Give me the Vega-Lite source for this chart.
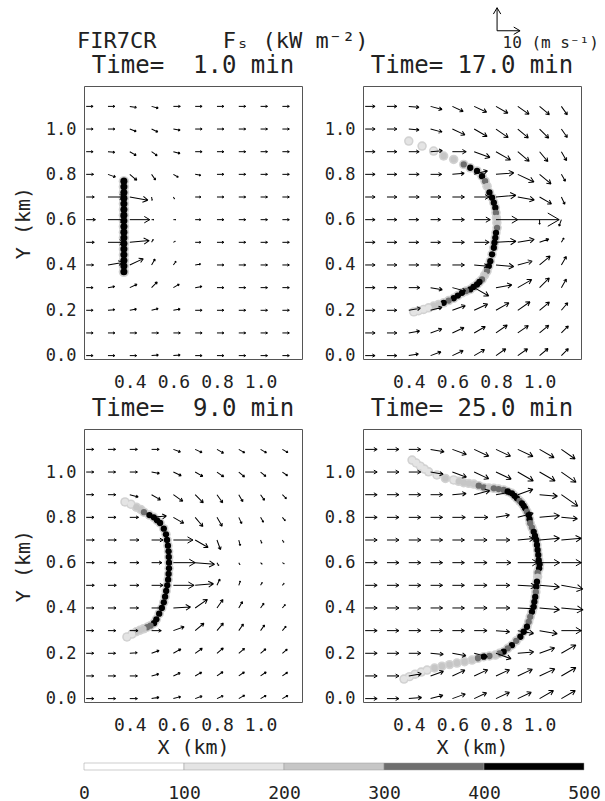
{
 "$schema": "https://vega.github.io/schema/vega-lite/v6.json",
 "padding": {"left": 12, "top": 5, "right": 0, "bottom": 0},
 "config": {
  "font": "DejaVu Sans Mono",
  "view": {"stroke": "#555", "strokeWidth": 1},
  "axis": {"grid": false, "domain": false, "ticks": false, "labelFont": "DejaVu Sans Mono", "labelFontSize": 17, "labelColor": "#222", "titleFont": "DejaVu Sans Mono", "titleFontSize": 20, "titleFontWeight": "normal", "titleColor": "#222"},
  "title": {"font": "DejaVu Sans Mono", "fontSize": 24, "fontWeight": "normal", "color": "#222", "baseline": "alphabetic", "offset": 8}
 },
 "datasets": {
  "vec": [
   {"t":1,"x":0.2,"y":1.1,"spd":3,"dir":0},{"t":1,"x":0.3,"y":1.1,"spd":3,"dir":0},{"t":1,"x":0.4,"y":1.1,"spd":3,"dir":10},{"t":1,"x":0.5,"y":1.1,"spd":3,"dir":15},{"t":1,"x":0.6,"y":1.1,"spd":3,"dir":0},{"t":1,"x":0.7,"y":1.1,"spd":3,"dir":0},{"t":1,"x":0.8,"y":1.1,"spd":3,"dir":0},{"t":1,"x":0.9,"y":1.1,"spd":3,"dir":0},{"t":1,"x":1.0,"y":1.1,"spd":3,"dir":0},{"t":1,"x":1.1,"y":1.1,"spd":3,"dir":0},
   {"t":1,"x":0.2,"y":1.0,"spd":3,"dir":0},{"t":1,"x":0.3,"y":1.0,"spd":3,"dir":0},{"t":1,"x":0.4,"y":1.0,"spd":3,"dir":20},{"t":1,"x":0.5,"y":1.0,"spd":3,"dir":25},{"t":1,"x":0.6,"y":1.0,"spd":3,"dir":10},{"t":1,"x":0.7,"y":1.0,"spd":3,"dir":0},{"t":1,"x":0.8,"y":1.0,"spd":3,"dir":0},{"t":1,"x":0.9,"y":1.0,"spd":3,"dir":0},{"t":1,"x":1.0,"y":1.0,"spd":3,"dir":0},{"t":1,"x":1.1,"y":1.0,"spd":3,"dir":0},
   {"t":1,"x":0.2,"y":0.9,"spd":3,"dir":0},{"t":1,"x":0.3,"y":0.9,"spd":3,"dir":5},{"t":1,"x":0.4,"y":0.9,"spd":3.2,"dir":30},{"t":1,"x":0.5,"y":0.9,"spd":3,"dir":35},{"t":1,"x":0.6,"y":0.9,"spd":3,"dir":15},{"t":1,"x":0.7,"y":0.9,"spd":3,"dir":0},{"t":1,"x":0.8,"y":0.9,"spd":3,"dir":0},{"t":1,"x":0.9,"y":0.9,"spd":3,"dir":0},{"t":1,"x":1.0,"y":0.9,"spd":3,"dir":0},{"t":1,"x":1.1,"y":0.9,"spd":3,"dir":0},
   {"t":1,"x":0.2,"y":0.8,"spd":3.2,"dir":0},{"t":1,"x":0.3,"y":0.8,"spd":3.5,"dir":20},{"t":1,"x":0.4,"y":0.8,"spd":4,"dir":40},{"t":1,"x":0.5,"y":0.8,"spd":3,"dir":55},{"t":1,"x":0.6,"y":0.8,"spd":2.5,"dir":30},{"t":1,"x":0.7,"y":0.8,"spd":2.5,"dir":10},{"t":1,"x":0.8,"y":0.8,"spd":3,"dir":0},{"t":1,"x":0.9,"y":0.8,"spd":3,"dir":0},{"t":1,"x":1.0,"y":0.8,"spd":3,"dir":0},{"t":1,"x":1.1,"y":0.8,"spd":3,"dir":0},
   {"t":1,"x":0.2,"y":0.7,"spd":3.5,"dir":0},{"t":1,"x":0.3,"y":0.7,"spd":7,"dir":0},{"t":1,"x":0.4,"y":0.7,"spd":8,"dir":10},{"t":1,"x":0.5,"y":0.7,"spd":1.5,"dir":80},{"t":1,"x":0.6,"y":0.7,"spd":1,"dir":60},{"t":1,"x":0.7,"y":0.7,"spd":2.5,"dir":0},{"t":1,"x":0.8,"y":0.7,"spd":3,"dir":0},{"t":1,"x":0.9,"y":0.7,"spd":3,"dir":0},{"t":1,"x":1.0,"y":0.7,"spd":3,"dir":0},{"t":1,"x":1.1,"y":0.7,"spd":3,"dir":0},
   {"t":1,"x":0.2,"y":0.6,"spd":4,"dir":0},{"t":1,"x":0.3,"y":0.6,"spd":7.5,"dir":0},{"t":1,"x":0.4,"y":0.6,"spd":8.7,"dir":0},{"t":1,"x":0.5,"y":0.6,"spd":1,"dir":0},{"t":1,"x":0.6,"y":0.6,"spd":1,"dir":0},{"t":1,"x":0.7,"y":0.6,"spd":2.5,"dir":0},{"t":1,"x":0.8,"y":0.6,"spd":3,"dir":0},{"t":1,"x":0.9,"y":0.6,"spd":3,"dir":0},{"t":1,"x":1.0,"y":0.6,"spd":3,"dir":0},{"t":1,"x":1.1,"y":0.6,"spd":3,"dir":0},
   {"t":1,"x":0.2,"y":0.5,"spd":3.5,"dir":0},{"t":1,"x":0.3,"y":0.5,"spd":7,"dir":0},{"t":1,"x":0.4,"y":0.5,"spd":8.5,"dir":-5},{"t":1,"x":0.5,"y":0.5,"spd":1.5,"dir":-60},{"t":1,"x":0.6,"y":0.5,"spd":1,"dir":-30},{"t":1,"x":0.7,"y":0.5,"spd":2.5,"dir":0},{"t":1,"x":0.8,"y":0.5,"spd":3,"dir":0},{"t":1,"x":0.9,"y":0.5,"spd":3,"dir":0},{"t":1,"x":1.0,"y":0.5,"spd":3,"dir":0},{"t":1,"x":1.1,"y":0.5,"spd":3,"dir":0},
   {"t":1,"x":0.2,"y":0.4,"spd":3.2,"dir":0},{"t":1,"x":0.3,"y":0.4,"spd":6.5,"dir":-10},{"t":1,"x":0.4,"y":0.4,"spd":6.5,"dir":-25},{"t":1,"x":0.5,"y":0.4,"spd":3,"dir":-60},{"t":1,"x":0.6,"y":0.4,"spd":2,"dir":-55},{"t":1,"x":0.7,"y":0.4,"spd":2.5,"dir":-10},{"t":1,"x":0.8,"y":0.4,"spd":3,"dir":0},{"t":1,"x":0.9,"y":0.4,"spd":3,"dir":0},{"t":1,"x":1.0,"y":0.4,"spd":3,"dir":0},{"t":1,"x":1.1,"y":0.4,"spd":3,"dir":0},
   {"t":1,"x":0.2,"y":0.3,"spd":3,"dir":0},{"t":1,"x":0.3,"y":0.3,"spd":3,"dir":-10},{"t":1,"x":0.4,"y":0.3,"spd":3.5,"dir":-25},{"t":1,"x":0.5,"y":0.3,"spd":3.5,"dir":-45},{"t":1,"x":0.6,"y":0.3,"spd":3,"dir":-30},{"t":1,"x":0.7,"y":0.3,"spd":3,"dir":-10},{"t":1,"x":0.8,"y":0.3,"spd":3,"dir":0},{"t":1,"x":0.9,"y":0.3,"spd":3,"dir":0},{"t":1,"x":1.0,"y":0.3,"spd":3,"dir":0},{"t":1,"x":1.1,"y":0.3,"spd":3,"dir":0},
   {"t":1,"x":0.2,"y":0.2,"spd":3,"dir":0},{"t":1,"x":0.3,"y":0.2,"spd":3,"dir":-5},{"t":1,"x":0.4,"y":0.2,"spd":3,"dir":-10},{"t":1,"x":0.5,"y":0.2,"spd":3,"dir":-15},{"t":1,"x":0.6,"y":0.2,"spd":3,"dir":-10},{"t":1,"x":0.7,"y":0.2,"spd":3,"dir":0},{"t":1,"x":0.8,"y":0.2,"spd":3,"dir":0},{"t":1,"x":0.9,"y":0.2,"spd":3,"dir":0},{"t":1,"x":1.0,"y":0.2,"spd":3,"dir":0},{"t":1,"x":1.1,"y":0.2,"spd":3,"dir":0},
   {"t":1,"x":0.2,"y":0.1,"spd":3,"dir":0},{"t":1,"x":0.3,"y":0.1,"spd":3,"dir":0},{"t":1,"x":0.4,"y":0.1,"spd":3,"dir":0},{"t":1,"x":0.5,"y":0.1,"spd":3,"dir":0},{"t":1,"x":0.6,"y":0.1,"spd":3,"dir":0},{"t":1,"x":0.7,"y":0.1,"spd":3,"dir":0},{"t":1,"x":0.8,"y":0.1,"spd":3,"dir":0},{"t":1,"x":0.9,"y":0.1,"spd":3,"dir":0},{"t":1,"x":1.0,"y":0.1,"spd":3,"dir":0},{"t":1,"x":1.1,"y":0.1,"spd":3,"dir":0},
   {"t":1,"x":0.2,"y":0.0,"spd":3,"dir":0},{"t":1,"x":0.3,"y":0.0,"spd":3,"dir":0},{"t":1,"x":0.4,"y":0.0,"spd":3,"dir":0},{"t":1,"x":0.5,"y":0.0,"spd":3,"dir":-5},{"t":1,"x":0.6,"y":0.0,"spd":3,"dir":-5},{"t":1,"x":0.7,"y":0.0,"spd":3,"dir":0},{"t":1,"x":0.8,"y":0.0,"spd":3,"dir":0},{"t":1,"x":0.9,"y":0.0,"spd":3,"dir":0},{"t":1,"x":1.0,"y":0.0,"spd":3,"dir":0},{"t":1,"x":1.1,"y":0.0,"spd":3,"dir":0},

   {"t":9,"x":0.2,"y":1.1,"spd":3.3,"dir":0},{"t":9,"x":0.3,"y":1.1,"spd":3.3,"dir":0},{"t":9,"x":0.4,"y":1.1,"spd":3.3,"dir":0},{"t":9,"x":0.5,"y":1.1,"spd":3.3,"dir":0},{"t":9,"x":0.6,"y":1.1,"spd":3.3,"dir":20},{"t":9,"x":0.7,"y":1.1,"spd":3.3,"dir":25},{"t":9,"x":0.8,"y":1.1,"spd":3.3,"dir":30},{"t":9,"x":0.9,"y":1.1,"spd":3,"dir":30},{"t":9,"x":1.0,"y":1.1,"spd":3,"dir":30},{"t":9,"x":1.1,"y":1.1,"spd":2.8,"dir":30},
   {"t":9,"x":0.2,"y":1.0,"spd":3.3,"dir":0},{"t":9,"x":0.3,"y":1.0,"spd":3.3,"dir":0},{"t":9,"x":0.4,"y":1.0,"spd":3.3,"dir":0},{"t":9,"x":0.5,"y":1.0,"spd":3.5,"dir":10},{"t":9,"x":0.6,"y":1.0,"spd":3.8,"dir":25},{"t":9,"x":0.7,"y":1.0,"spd":3.8,"dir":30},{"t":9,"x":0.8,"y":1.0,"spd":3.6,"dir":35},{"t":9,"x":0.9,"y":1.0,"spd":3.3,"dir":40},{"t":9,"x":1.0,"y":1.0,"spd":3,"dir":40},{"t":9,"x":1.1,"y":1.0,"spd":2.8,"dir":35},
   {"t":9,"x":0.2,"y":0.9,"spd":3.3,"dir":0},{"t":9,"x":0.3,"y":0.9,"spd":3.4,"dir":0},{"t":9,"x":0.4,"y":0.9,"spd":3.8,"dir":15},{"t":9,"x":0.5,"y":0.9,"spd":4.5,"dir":30},{"t":9,"x":0.6,"y":0.9,"spd":5,"dir":35},{"t":9,"x":0.7,"y":0.9,"spd":5,"dir":45},{"t":9,"x":0.8,"y":0.9,"spd":4.3,"dir":55},{"t":9,"x":0.9,"y":0.9,"spd":3.5,"dir":60},{"t":9,"x":1.0,"y":0.9,"spd":3,"dir":55},{"t":9,"x":1.1,"y":0.9,"spd":2.5,"dir":45},
   {"t":9,"x":0.2,"y":0.8,"spd":3.4,"dir":0},{"t":9,"x":0.3,"y":0.8,"spd":3.5,"dir":0},{"t":9,"x":0.4,"y":0.8,"spd":3.8,"dir":0},{"t":9,"x":0.5,"y":0.8,"spd":6.5,"dir":-5},{"t":9,"x":0.6,"y":0.8,"spd":5.2,"dir":30},{"t":9,"x":0.7,"y":0.8,"spd":5.2,"dir":50},{"t":9,"x":0.8,"y":0.8,"spd":4.5,"dir":60},{"t":9,"x":0.9,"y":0.8,"spd":3,"dir":65},{"t":9,"x":1.0,"y":0.8,"spd":2.5,"dir":60},{"t":9,"x":1.1,"y":0.8,"spd":2,"dir":50},
   {"t":9,"x":0.2,"y":0.7,"spd":3.5,"dir":0},{"t":9,"x":0.3,"y":0.7,"spd":3.6,"dir":0},{"t":9,"x":0.4,"y":0.7,"spd":4,"dir":0},{"t":9,"x":0.5,"y":0.7,"spd":5,"dir":0},{"t":9,"x":0.6,"y":0.7,"spd":8.5,"dir":0},{"t":9,"x":0.7,"y":0.7,"spd":6.5,"dir":30},{"t":9,"x":0.8,"y":0.7,"spd":4.5,"dir":70},{"t":9,"x":0.9,"y":0.7,"spd":2.5,"dir":75},{"t":9,"x":1.0,"y":0.7,"spd":1.5,"dir":70},{"t":9,"x":1.1,"y":0.7,"spd":1.2,"dir":60},
   {"t":9,"x":0.2,"y":0.6,"spd":3.5,"dir":0},{"t":9,"x":0.3,"y":0.6,"spd":3.6,"dir":0},{"t":9,"x":0.4,"y":0.6,"spd":4,"dir":0},{"t":9,"x":0.5,"y":0.6,"spd":4.5,"dir":0},{"t":9,"x":0.6,"y":0.6,"spd":9.5,"dir":0},{"t":9,"x":0.7,"y":0.6,"spd":8.5,"dir":5},{"t":9,"x":0.8,"y":0.6,"spd":1.5,"dir":60},{"t":9,"x":0.9,"y":0.6,"spd":1,"dir":60},{"t":9,"x":1.0,"y":0.6,"spd":1,"dir":45},{"t":9,"x":1.1,"y":0.6,"spd":1,"dir":30},
   {"t":9,"x":0.2,"y":0.5,"spd":3.5,"dir":0},{"t":9,"x":0.3,"y":0.5,"spd":3.6,"dir":0},{"t":9,"x":0.4,"y":0.5,"spd":4,"dir":0},{"t":9,"x":0.5,"y":0.5,"spd":5,"dir":0},{"t":9,"x":0.6,"y":0.5,"spd":9,"dir":0},{"t":9,"x":0.7,"y":0.5,"spd":8,"dir":-5},{"t":9,"x":0.8,"y":0.5,"spd":3,"dir":-65},{"t":9,"x":0.9,"y":0.5,"spd":2,"dir":-70},{"t":9,"x":1.0,"y":0.5,"spd":1.5,"dir":-60},{"t":9,"x":1.1,"y":0.5,"spd":1.2,"dir":-50},
   {"t":9,"x":0.2,"y":0.4,"spd":3.4,"dir":0},{"t":9,"x":0.3,"y":0.4,"spd":3.5,"dir":0},{"t":9,"x":0.4,"y":0.4,"spd":3.8,"dir":0},{"t":9,"x":0.5,"y":0.4,"spd":5,"dir":0},{"t":9,"x":0.6,"y":0.4,"spd":7.5,"dir":-3},{"t":9,"x":0.7,"y":0.4,"spd":6.5,"dir":-35},{"t":9,"x":0.8,"y":0.4,"spd":4.5,"dir":-55},{"t":9,"x":0.9,"y":0.4,"spd":3.2,"dir":-60},{"t":9,"x":1.0,"y":0.4,"spd":2.5,"dir":-55},{"t":9,"x":1.1,"y":0.4,"spd":2,"dir":-50},
   {"t":9,"x":0.2,"y":0.3,"spd":3.3,"dir":0},{"t":9,"x":0.3,"y":0.3,"spd":3.4,"dir":0},{"t":9,"x":0.4,"y":0.3,"spd":3.6,"dir":0},{"t":9,"x":0.5,"y":0.3,"spd":4.2,"dir":0},{"t":9,"x":0.6,"y":0.3,"spd":5,"dir":-20},{"t":9,"x":0.7,"y":0.3,"spd":5,"dir":-40},{"t":9,"x":0.8,"y":0.3,"spd":4.3,"dir":-50},{"t":9,"x":0.9,"y":0.3,"spd":3.5,"dir":-55},{"t":9,"x":1.0,"y":0.3,"spd":3,"dir":-55},{"t":9,"x":1.1,"y":0.3,"spd":2.5,"dir":-50},
   {"t":9,"x":0.2,"y":0.2,"spd":3.3,"dir":0},{"t":9,"x":0.3,"y":0.2,"spd":3.3,"dir":0},{"t":9,"x":0.4,"y":0.2,"spd":3.3,"dir":-5},{"t":9,"x":0.5,"y":0.2,"spd":3.5,"dir":-20},{"t":9,"x":0.6,"y":0.2,"spd":3.8,"dir":-30},{"t":9,"x":0.7,"y":0.2,"spd":3.8,"dir":-35},{"t":9,"x":0.8,"y":0.2,"spd":3.6,"dir":-40},{"t":9,"x":0.9,"y":0.2,"spd":3.3,"dir":-40},{"t":9,"x":1.0,"y":0.2,"spd":3,"dir":-40},{"t":9,"x":1.1,"y":0.2,"spd":2.8,"dir":-40},
   {"t":9,"x":0.2,"y":0.1,"spd":3.3,"dir":0},{"t":9,"x":0.3,"y":0.1,"spd":3.3,"dir":0},{"t":9,"x":0.4,"y":0.1,"spd":3.3,"dir":0},{"t":9,"x":0.5,"y":0.1,"spd":3.3,"dir":-15},{"t":9,"x":0.6,"y":0.1,"spd":3.3,"dir":-25},{"t":9,"x":0.7,"y":0.1,"spd":3.3,"dir":-30},{"t":9,"x":0.8,"y":0.1,"spd":3.2,"dir":-35},{"t":9,"x":0.9,"y":0.1,"spd":3,"dir":-35},{"t":9,"x":1.0,"y":0.1,"spd":3,"dir":-35},{"t":9,"x":1.1,"y":0.1,"spd":2.8,"dir":-35},
   {"t":9,"x":0.2,"y":0.0,"spd":3.3,"dir":0},{"t":9,"x":0.3,"y":0.0,"spd":3.3,"dir":0},{"t":9,"x":0.4,"y":0.0,"spd":3.3,"dir":0},{"t":9,"x":0.5,"y":0.0,"spd":3.3,"dir":-10},{"t":9,"x":0.6,"y":0.0,"spd":3.3,"dir":-15},{"t":9,"x":0.7,"y":0.0,"spd":3.2,"dir":-20},{"t":9,"x":0.8,"y":0.0,"spd":3,"dir":-25},{"t":9,"x":0.9,"y":0.0,"spd":3,"dir":-30},{"t":9,"x":1.0,"y":0.0,"spd":2.8,"dir":-30},{"t":9,"x":1.1,"y":0.0,"spd":2.8,"dir":-30},

   {"t":17,"x":0.2,"y":1.1,"spd":4.3,"dir":0},{"t":17,"x":0.3,"y":1.1,"spd":4.3,"dir":0},{"t":17,"x":0.4,"y":1.1,"spd":4.5,"dir":5},{"t":17,"x":0.5,"y":1.1,"spd":5.2,"dir":15},{"t":17,"x":0.6,"y":1.1,"spd":5.2,"dir":25},{"t":17,"x":0.7,"y":1.1,"spd":6,"dir":25},{"t":17,"x":0.8,"y":1.1,"spd":6,"dir":30},{"t":17,"x":0.9,"y":1.1,"spd":6,"dir":35},{"t":17,"x":1.0,"y":1.1,"spd":5.6,"dir":40},{"t":17,"x":1.1,"y":1.1,"spd":4.5,"dir":55},
   {"t":17,"x":0.2,"y":1.0,"spd":4.3,"dir":0},{"t":17,"x":0.3,"y":1.0,"spd":4.3,"dir":0},{"t":17,"x":0.4,"y":1.0,"spd":4.5,"dir":5},{"t":17,"x":0.5,"y":1.0,"spd":5.2,"dir":15},{"t":17,"x":0.6,"y":1.0,"spd":6,"dir":25},{"t":17,"x":0.7,"y":1.0,"spd":6.5,"dir":30},{"t":17,"x":0.8,"y":1.0,"spd":6.5,"dir":35},{"t":17,"x":0.9,"y":1.0,"spd":6,"dir":40},{"t":17,"x":1.0,"y":1.0,"spd":5.6,"dir":45},{"t":17,"x":1.1,"y":1.0,"spd":4.5,"dir":55},
   {"t":17,"x":0.2,"y":0.9,"spd":4.3,"dir":0},{"t":17,"x":0.3,"y":0.9,"spd":4.3,"dir":0},{"t":17,"x":0.4,"y":0.9,"spd":4.5,"dir":0},{"t":17,"x":0.5,"y":0.9,"spd":5.2,"dir":-5},{"t":17,"x":0.6,"y":0.9,"spd":6,"dir":0},{"t":17,"x":0.7,"y":0.9,"spd":7.3,"dir":20},{"t":17,"x":0.8,"y":0.9,"spd":7.3,"dir":30},{"t":17,"x":0.9,"y":0.9,"spd":6.5,"dir":40},{"t":17,"x":1.0,"y":0.9,"spd":5.6,"dir":50},{"t":17,"x":1.1,"y":0.9,"spd":4.5,"dir":60},
   {"t":17,"x":0.2,"y":0.8,"spd":4.3,"dir":0},{"t":17,"x":0.3,"y":0.8,"spd":4.3,"dir":0},{"t":17,"x":0.4,"y":0.8,"spd":4.5,"dir":0},{"t":17,"x":0.5,"y":0.8,"spd":4.8,"dir":0},{"t":17,"x":0.6,"y":0.8,"spd":5.2,"dir":-5},{"t":17,"x":0.7,"y":0.8,"spd":6,"dir":-15},{"t":17,"x":0.8,"y":0.8,"spd":7.8,"dir":-5},{"t":17,"x":0.9,"y":0.8,"spd":7.8,"dir":25},{"t":17,"x":1.0,"y":0.8,"spd":6.5,"dir":40},{"t":17,"x":1.1,"y":0.8,"spd":3.5,"dir":60},
   {"t":17,"x":0.2,"y":0.7,"spd":4.3,"dir":0},{"t":17,"x":0.3,"y":0.7,"spd":4.3,"dir":0},{"t":17,"x":0.4,"y":0.7,"spd":4.5,"dir":0},{"t":17,"x":0.5,"y":0.7,"spd":4.5,"dir":0},{"t":17,"x":0.6,"y":0.7,"spd":5.2,"dir":0},{"t":17,"x":0.7,"y":0.7,"spd":6.5,"dir":0},{"t":17,"x":0.8,"y":0.7,"spd":8.7,"dir":-5},{"t":17,"x":0.9,"y":0.7,"spd":7.3,"dir":10},{"t":17,"x":1.0,"y":0.7,"spd":6,"dir":30},{"t":17,"x":1.1,"y":0.7,"spd":3.5,"dir":65},
   {"t":17,"x":0.2,"y":0.6,"spd":4.3,"dir":0},{"t":17,"x":0.3,"y":0.6,"spd":4.3,"dir":0},{"t":17,"x":0.4,"y":0.6,"spd":4.3,"dir":0},{"t":17,"x":0.5,"y":0.6,"spd":4.3,"dir":0},{"t":17,"x":0.6,"y":0.6,"spd":5.2,"dir":0},{"t":17,"x":0.7,"y":0.6,"spd":7,"dir":0},{"t":17,"x":0.8,"y":0.6,"spd":9.5,"dir":0},{"t":17,"x":0.9,"y":0.6,"spd":18,"dir":0},{"t":17,"x":1.0,"y":0.6,"spd":2,"dir":90},{"t":17,"x":1.1,"y":0.6,"spd":3,"dir":110},
   {"t":17,"x":0.2,"y":0.5,"spd":4.3,"dir":0},{"t":17,"x":0.3,"y":0.5,"spd":4.3,"dir":0},{"t":17,"x":0.4,"y":0.5,"spd":4.3,"dir":0},{"t":17,"x":0.5,"y":0.5,"spd":4.3,"dir":0},{"t":17,"x":0.6,"y":0.5,"spd":5.2,"dir":0},{"t":17,"x":0.7,"y":0.5,"spd":6.5,"dir":0},{"t":17,"x":0.8,"y":0.5,"spd":8.7,"dir":-3},{"t":17,"x":0.9,"y":0.5,"spd":7.3,"dir":-10},{"t":17,"x":1.0,"y":0.5,"spd":4.3,"dir":-20},{"t":17,"x":1.1,"y":0.5,"spd":2.2,"dir":-60},
   {"t":17,"x":0.2,"y":0.4,"spd":4.3,"dir":0},{"t":17,"x":0.3,"y":0.4,"spd":4.3,"dir":0},{"t":17,"x":0.4,"y":0.4,"spd":4.3,"dir":0},{"t":17,"x":0.5,"y":0.4,"spd":4.3,"dir":0},{"t":17,"x":0.6,"y":0.4,"spd":5.2,"dir":0},{"t":17,"x":0.7,"y":0.4,"spd":6,"dir":5},{"t":17,"x":0.8,"y":0.4,"spd":7.8,"dir":5},{"t":17,"x":0.9,"y":0.4,"spd":6.5,"dir":-15},{"t":17,"x":1.0,"y":0.4,"spd":6,"dir":-40},{"t":17,"x":1.1,"y":0.4,"spd":4.3,"dir":-60},
   {"t":17,"x":0.2,"y":0.3,"spd":4.3,"dir":0},{"t":17,"x":0.3,"y":0.3,"spd":4.3,"dir":0},{"t":17,"x":0.4,"y":0.3,"spd":4.8,"dir":0},{"t":17,"x":0.5,"y":0.3,"spd":5.2,"dir":10},{"t":17,"x":0.6,"y":0.3,"spd":6,"dir":15},{"t":17,"x":0.7,"y":0.3,"spd":7.3,"dir":30},{"t":17,"x":0.8,"y":0.3,"spd":7,"dir":-10},{"t":17,"x":0.9,"y":0.3,"spd":7,"dir":-30},{"t":17,"x":1.0,"y":0.3,"spd":6,"dir":-45},{"t":17,"x":1.1,"y":0.3,"spd":4.3,"dir":-60},
   {"t":17,"x":0.2,"y":0.2,"spd":4.3,"dir":0},{"t":17,"x":0.3,"y":0.2,"spd":4.3,"dir":0},{"t":17,"x":0.4,"y":0.2,"spd":5.2,"dir":-10},{"t":17,"x":0.5,"y":0.2,"spd":5.2,"dir":-15},{"t":17,"x":0.6,"y":0.2,"spd":6,"dir":-20},{"t":17,"x":0.7,"y":0.2,"spd":6.5,"dir":-25},{"t":17,"x":0.8,"y":0.2,"spd":6.5,"dir":-30},{"t":17,"x":0.9,"y":0.2,"spd":6.5,"dir":-35},{"t":17,"x":1.0,"y":0.2,"spd":5.6,"dir":-40},{"t":17,"x":1.1,"y":0.2,"spd":4.3,"dir":-50},
   {"t":17,"x":0.2,"y":0.1,"spd":4.3,"dir":0},{"t":17,"x":0.3,"y":0.1,"spd":4.3,"dir":0},{"t":17,"x":0.4,"y":0.1,"spd":4.8,"dir":-10},{"t":17,"x":0.5,"y":0.1,"spd":5.2,"dir":-20},{"t":17,"x":0.6,"y":0.1,"spd":5.6,"dir":-25},{"t":17,"x":0.7,"y":0.1,"spd":5.6,"dir":-30},{"t":17,"x":0.8,"y":0.1,"spd":6,"dir":-35},{"t":17,"x":0.9,"y":0.1,"spd":5.6,"dir":-35},{"t":17,"x":1.0,"y":0.1,"spd":5.2,"dir":-40},{"t":17,"x":1.1,"y":0.1,"spd":4.3,"dir":-45},
   {"t":17,"x":0.2,"y":0.0,"spd":4.3,"dir":0},{"t":17,"x":0.3,"y":0.0,"spd":4.3,"dir":0},{"t":17,"x":0.4,"y":0.0,"spd":4.3,"dir":-10},{"t":17,"x":0.5,"y":0.0,"spd":4.8,"dir":-20},{"t":17,"x":0.6,"y":0.0,"spd":5.2,"dir":-25},{"t":17,"x":0.7,"y":0.0,"spd":5.2,"dir":-30},{"t":17,"x":0.8,"y":0.0,"spd":5.2,"dir":-35},{"t":17,"x":0.9,"y":0.0,"spd":5.2,"dir":-35},{"t":17,"x":1.0,"y":0.0,"spd":4.8,"dir":-40},{"t":17,"x":1.1,"y":0.0,"spd":4.3,"dir":-45},

   {"t":25,"x":0.2,"y":1.1,"spd":5.2,"dir":0},{"t":25,"x":0.3,"y":1.1,"spd":5.2,"dir":0},{"t":25,"x":0.4,"y":1.1,"spd":5.2,"dir":0},{"t":25,"x":0.5,"y":1.1,"spd":6,"dir":10},{"t":25,"x":0.6,"y":1.1,"spd":6.5,"dir":20},{"t":25,"x":0.7,"y":1.1,"spd":7,"dir":25},{"t":25,"x":0.8,"y":1.1,"spd":7,"dir":25},{"t":25,"x":0.9,"y":1.1,"spd":7.3,"dir":25},{"t":25,"x":1.0,"y":1.1,"spd":7.3,"dir":30},{"t":25,"x":1.1,"y":1.1,"spd":7.3,"dir":35},
   {"t":25,"x":0.2,"y":1.0,"spd":5.2,"dir":0},{"t":25,"x":0.3,"y":1.0,"spd":5.2,"dir":0},{"t":25,"x":0.4,"y":1.0,"spd":5.2,"dir":0},{"t":25,"x":0.5,"y":1.0,"spd":5.6,"dir":10},{"t":25,"x":0.6,"y":1.0,"spd":6.5,"dir":20},{"t":25,"x":0.7,"y":1.0,"spd":7,"dir":25},{"t":25,"x":0.8,"y":1.0,"spd":7.3,"dir":25},{"t":25,"x":0.9,"y":1.0,"spd":7.8,"dir":30},{"t":25,"x":1.0,"y":1.0,"spd":7.8,"dir":30},{"t":25,"x":1.1,"y":1.0,"spd":7.8,"dir":35},
   {"t":25,"x":0.2,"y":0.9,"spd":5.2,"dir":0},{"t":25,"x":0.3,"y":0.9,"spd":5.2,"dir":0},{"t":25,"x":0.4,"y":0.9,"spd":5.2,"dir":0},{"t":25,"x":0.5,"y":0.9,"spd":5.2,"dir":0},{"t":25,"x":0.6,"y":0.9,"spd":6,"dir":-5},{"t":25,"x":0.7,"y":0.9,"spd":7,"dir":-15},{"t":25,"x":0.8,"y":0.9,"spd":7,"dir":-10},{"t":25,"x":0.9,"y":0.9,"spd":7,"dir":-20},{"t":25,"x":1.0,"y":0.9,"spd":7.8,"dir":5},{"t":25,"x":1.1,"y":0.9,"spd":8.7,"dir":35},
   {"t":25,"x":0.2,"y":0.8,"spd":5.2,"dir":0},{"t":25,"x":0.3,"y":0.8,"spd":5.2,"dir":0},{"t":25,"x":0.4,"y":0.8,"spd":5.2,"dir":0},{"t":25,"x":0.5,"y":0.8,"spd":5.2,"dir":0},{"t":25,"x":0.6,"y":0.8,"spd":5.6,"dir":0},{"t":25,"x":0.7,"y":0.8,"spd":6,"dir":0},{"t":25,"x":0.8,"y":0.8,"spd":6,"dir":-10},{"t":25,"x":0.9,"y":0.8,"spd":7,"dir":-15},{"t":25,"x":1.0,"y":0.8,"spd":8.7,"dir":-5},{"t":25,"x":1.1,"y":0.8,"spd":7,"dir":5},
   {"t":25,"x":0.2,"y":0.7,"spd":5.2,"dir":0},{"t":25,"x":0.3,"y":0.7,"spd":5.2,"dir":0},{"t":25,"x":0.4,"y":0.7,"spd":5.2,"dir":0},{"t":25,"x":0.5,"y":0.7,"spd":5.2,"dir":0},{"t":25,"x":0.6,"y":0.7,"spd":5.2,"dir":0},{"t":25,"x":0.7,"y":0.7,"spd":5.6,"dir":0},{"t":25,"x":0.8,"y":0.7,"spd":6,"dir":0},{"t":25,"x":0.9,"y":0.7,"spd":7,"dir":-5},{"t":25,"x":1.0,"y":0.7,"spd":8.7,"dir":-5},{"t":25,"x":1.1,"y":0.7,"spd":8.7,"dir":-5},
   {"t":25,"x":0.2,"y":0.6,"spd":5.2,"dir":0},{"t":25,"x":0.3,"y":0.6,"spd":5.2,"dir":0},{"t":25,"x":0.4,"y":0.6,"spd":5.2,"dir":0},{"t":25,"x":0.5,"y":0.6,"spd":5.2,"dir":0},{"t":25,"x":0.6,"y":0.6,"spd":5.2,"dir":0},{"t":25,"x":0.7,"y":0.6,"spd":5.6,"dir":0},{"t":25,"x":0.8,"y":0.6,"spd":6.5,"dir":0},{"t":25,"x":0.9,"y":0.6,"spd":8.7,"dir":0},{"t":25,"x":1.0,"y":0.6,"spd":8.7,"dir":0},{"t":25,"x":1.1,"y":0.6,"spd":8.7,"dir":0},
   {"t":25,"x":0.2,"y":0.5,"spd":5.2,"dir":0},{"t":25,"x":0.3,"y":0.5,"spd":5.2,"dir":0},{"t":25,"x":0.4,"y":0.5,"spd":5.2,"dir":0},{"t":25,"x":0.5,"y":0.5,"spd":5.2,"dir":0},{"t":25,"x":0.6,"y":0.5,"spd":5.2,"dir":0},{"t":25,"x":0.7,"y":0.5,"spd":5.6,"dir":0},{"t":25,"x":0.8,"y":0.5,"spd":6,"dir":0},{"t":25,"x":0.9,"y":0.5,"spd":7.8,"dir":3},{"t":25,"x":1.0,"y":0.5,"spd":8.7,"dir":5},{"t":25,"x":1.1,"y":0.5,"spd":9.5,"dir":10},
   {"t":25,"x":0.2,"y":0.4,"spd":5.2,"dir":0},{"t":25,"x":0.3,"y":0.4,"spd":5.2,"dir":0},{"t":25,"x":0.4,"y":0.4,"spd":5.2,"dir":0},{"t":25,"x":0.5,"y":0.4,"spd":5.2,"dir":0},{"t":25,"x":0.6,"y":0.4,"spd":5.2,"dir":0},{"t":25,"x":0.7,"y":0.4,"spd":5.6,"dir":0},{"t":25,"x":0.8,"y":0.4,"spd":6,"dir":0},{"t":25,"x":0.9,"y":0.4,"spd":7.3,"dir":3},{"t":25,"x":1.0,"y":0.4,"spd":8.7,"dir":5},{"t":25,"x":1.1,"y":0.4,"spd":9.5,"dir":5},
   {"t":25,"x":0.2,"y":0.3,"spd":5.2,"dir":0},{"t":25,"x":0.3,"y":0.3,"spd":5.2,"dir":0},{"t":25,"x":0.4,"y":0.3,"spd":5.2,"dir":0},{"t":25,"x":0.5,"y":0.3,"spd":5.2,"dir":0},{"t":25,"x":0.6,"y":0.3,"spd":5.2,"dir":0},{"t":25,"x":0.7,"y":0.3,"spd":5.6,"dir":0},{"t":25,"x":0.8,"y":0.3,"spd":6,"dir":5},{"t":25,"x":0.9,"y":0.3,"spd":7,"dir":10},{"t":25,"x":1.0,"y":0.3,"spd":7.8,"dir":10},{"t":25,"x":1.1,"y":0.3,"spd":8.7,"dir":0},
   {"t":25,"x":0.2,"y":0.2,"spd":5.2,"dir":0},{"t":25,"x":0.3,"y":0.2,"spd":5.2,"dir":0},{"t":25,"x":0.4,"y":0.2,"spd":5.2,"dir":0},{"t":25,"x":0.5,"y":0.2,"spd":5.6,"dir":5},{"t":25,"x":0.6,"y":0.2,"spd":6,"dir":10},{"t":25,"x":0.7,"y":0.2,"spd":6,"dir":15},{"t":25,"x":0.8,"y":0.2,"spd":7,"dir":20},{"t":25,"x":0.9,"y":0.2,"spd":7,"dir":-5},{"t":25,"x":1.0,"y":0.2,"spd":7,"dir":-20},{"t":25,"x":1.1,"y":0.2,"spd":7.3,"dir":-30},
   {"t":25,"x":0.2,"y":0.1,"spd":5.2,"dir":0},{"t":25,"x":0.3,"y":0.1,"spd":5.2,"dir":0},{"t":25,"x":0.4,"y":0.1,"spd":5.6,"dir":-10},{"t":25,"x":0.5,"y":0.1,"spd":6,"dir":-20},{"t":25,"x":0.6,"y":0.1,"spd":6,"dir":-25},{"t":25,"x":0.7,"y":0.1,"spd":6.5,"dir":-25},{"t":25,"x":0.8,"y":0.1,"spd":6.5,"dir":-25},{"t":25,"x":0.9,"y":0.1,"spd":7,"dir":-25},{"t":25,"x":1.0,"y":0.1,"spd":7.3,"dir":-25},{"t":25,"x":1.1,"y":0.1,"spd":7.3,"dir":-30},
   {"t":25,"x":0.2,"y":0.0,"spd":5.2,"dir":0},{"t":25,"x":0.3,"y":0.0,"spd":5.2,"dir":0},{"t":25,"x":0.4,"y":0.0,"spd":5.6,"dir":-5},{"t":25,"x":0.5,"y":0.0,"spd":5.6,"dir":-15},{"t":25,"x":0.6,"y":0.0,"spd":6,"dir":-20},{"t":25,"x":0.7,"y":0.0,"spd":6,"dir":-25},{"t":25,"x":0.8,"y":0.0,"spd":6.5,"dir":-25},{"t":25,"x":0.9,"y":0.0,"spd":6.5,"dir":-25},{"t":25,"x":1.0,"y":0.0,"spd":7,"dir":-30},{"t":25,"x":1.1,"y":0.0,"spd":7,"dir":-30}
  ],
  "fire": [
   {"t":1,"x":0.373,"y":0.37,"fs":430},{"t":1,"x":0.373,"y":0.395,"fs":460},{"t":1,"x":0.373,"y":0.42,"fs":470},{"t":1,"x":0.373,"y":0.445,"fs":480},{"t":1,"x":0.373,"y":0.47,"fs":480},{"t":1,"x":0.373,"y":0.495,"fs":480},{"t":1,"x":0.373,"y":0.52,"fs":480},{"t":1,"x":0.373,"y":0.545,"fs":480},{"t":1,"x":0.373,"y":0.57,"fs":480},{"t":1,"x":0.373,"y":0.595,"fs":480},{"t":1,"x":0.373,"y":0.62,"fs":480},{"t":1,"x":0.373,"y":0.645,"fs":480},{"t":1,"x":0.373,"y":0.67,"fs":480},{"t":1,"x":0.373,"y":0.695,"fs":480},{"t":1,"x":0.373,"y":0.72,"fs":470},{"t":1,"x":0.373,"y":0.745,"fs":460},{"t":1,"x":0.373,"y":0.77,"fs":430},

   {"t":9,"x":0.378,"y":0.868,"fs":150},{"t":9,"x":0.405,"y":0.858,"fs":180},{"t":9,"x":0.43,"y":0.845,"fs":220},{"t":9,"x":0.45,"y":0.835,"fs":280},{"t":9,"x":0.465,"y":0.823,"fs":350},{"t":9,"x":0.49,"y":0.81,"fs":420},{"t":9,"x":0.51,"y":0.8,"fs":450},{"t":9,"x":0.525,"y":0.787,"fs":450},{"t":9,"x":0.539,"y":0.775,"fs":460},{"t":9,"x":0.556,"y":0.75,"fs":460},{"t":9,"x":0.566,"y":0.725,"fs":470},{"t":9,"x":0.571,"y":0.7,"fs":470},{"t":9,"x":0.575,"y":0.675,"fs":470},{"t":9,"x":0.578,"y":0.65,"fs":480},{"t":9,"x":0.579,"y":0.625,"fs":480},{"t":9,"x":0.58,"y":0.6,"fs":480},{"t":9,"x":0.58,"y":0.575,"fs":480},{"t":9,"x":0.578,"y":0.55,"fs":480},{"t":9,"x":0.576,"y":0.525,"fs":470},{"t":9,"x":0.572,"y":0.5,"fs":470},{"t":9,"x":0.567,"y":0.475,"fs":470},{"t":9,"x":0.562,"y":0.45,"fs":460},{"t":9,"x":0.556,"y":0.425,"fs":460},{"t":9,"x":0.547,"y":0.4,"fs":450},{"t":9,"x":0.535,"y":0.375,"fs":450},{"t":9,"x":0.522,"y":0.35,"fs":440},{"t":9,"x":0.511,"y":0.333,"fs":420},{"t":9,"x":0.495,"y":0.322,"fs":350},{"t":9,"x":0.48,"y":0.315,"fs":300},{"t":9,"x":0.463,"y":0.308,"fs":260},{"t":9,"x":0.447,"y":0.302,"fs":230},{"t":9,"x":0.43,"y":0.295,"fs":200},{"t":9,"x":0.41,"y":0.285,"fs":170},{"t":9,"x":0.387,"y":0.272,"fs":150},

   {"t":17,"x":0.4,"y":0.947,"fs":120},{"t":17,"x":0.461,"y":0.925,"fs":150},{"t":17,"x":0.514,"y":0.903,"fs":180},{"t":17,"x":0.56,"y":0.881,"fs":200},{"t":17,"x":0.606,"y":0.866,"fs":250},{"t":17,"x":0.652,"y":0.844,"fs":350},{"t":17,"x":0.682,"y":0.829,"fs":450},{"t":17,"x":0.713,"y":0.815,"fs":450},{"t":17,"x":0.736,"y":0.792,"fs":450},{"t":17,"x":0.75,"y":0.77,"fs":300},{"t":17,"x":0.759,"y":0.748,"fs":280},{"t":17,"x":0.77,"y":0.72,"fs":420},{"t":17,"x":0.782,"y":0.697,"fs":450},{"t":17,"x":0.79,"y":0.675,"fs":450},{"t":17,"x":0.797,"y":0.653,"fs":450},{"t":17,"x":0.8,"y":0.63,"fs":300},{"t":17,"x":0.802,"y":0.608,"fs":250},{"t":17,"x":0.804,"y":0.586,"fs":250},{"t":17,"x":0.805,"y":0.564,"fs":300},{"t":17,"x":0.8,"y":0.542,"fs":450},{"t":17,"x":0.797,"y":0.52,"fs":450},{"t":17,"x":0.793,"y":0.498,"fs":450},{"t":17,"x":0.79,"y":0.476,"fs":450},{"t":17,"x":0.782,"y":0.447,"fs":450},{"t":17,"x":0.774,"y":0.417,"fs":450},{"t":17,"x":0.767,"y":0.395,"fs":420},{"t":17,"x":0.759,"y":0.373,"fs":300},{"t":17,"x":0.748,"y":0.355,"fs":280},{"t":17,"x":0.736,"y":0.336,"fs":300},{"t":17,"x":0.724,"y":0.325,"fs":420},{"t":17,"x":0.713,"y":0.314,"fs":450},{"t":17,"x":0.697,"y":0.303,"fs":420},{"t":17,"x":0.682,"y":0.292,"fs":450},{"t":17,"x":0.663,"y":0.285,"fs":300},{"t":17,"x":0.644,"y":0.277,"fs":420},{"t":17,"x":0.625,"y":0.265,"fs":430},{"t":17,"x":0.606,"y":0.253,"fs":450},{"t":17,"x":0.583,"y":0.243,"fs":300},{"t":17,"x":0.56,"y":0.233,"fs":420},{"t":17,"x":0.537,"y":0.226,"fs":250},{"t":17,"x":0.514,"y":0.219,"fs":200},{"t":17,"x":0.491,"y":0.211,"fs":180},{"t":17,"x":0.468,"y":0.204,"fs":150},{"t":17,"x":0.445,"y":0.198,"fs":130},{"t":17,"x":0.423,"y":0.193,"fs":120},

   {"t":25,"x":0.415,"y":1.053,"fs":120},{"t":25,"x":0.434,"y":1.04,"fs":120},{"t":25,"x":0.453,"y":1.026,"fs":130},{"t":25,"x":0.472,"y":1.013,"fs":130},{"t":25,"x":0.491,"y":1.001,"fs":150},{"t":25,"x":0.529,"y":0.987,"fs":180},{"t":25,"x":0.568,"y":0.972,"fs":250},{"t":25,"x":0.606,"y":0.965,"fs":150},{"t":25,"x":0.629,"y":0.959,"fs":250},{"t":25,"x":0.652,"y":0.953,"fs":280},{"t":25,"x":0.675,"y":0.95,"fs":200},{"t":25,"x":0.698,"y":0.947,"fs":250},{"t":25,"x":0.721,"y":0.94,"fs":300},{"t":25,"x":0.744,"y":0.932,"fs":300},{"t":25,"x":0.767,"y":0.93,"fs":280},{"t":25,"x":0.79,"y":0.928,"fs":300},{"t":25,"x":0.812,"y":0.925,"fs":300},{"t":25,"x":0.835,"y":0.921,"fs":350},{"t":25,"x":0.854,"y":0.914,"fs":420},{"t":25,"x":0.873,"y":0.906,"fs":450},{"t":25,"x":0.885,"y":0.895,"fs":450},{"t":25,"x":0.896,"y":0.884,"fs":430},{"t":25,"x":0.908,"y":0.873,"fs":300},{"t":25,"x":0.919,"y":0.862,"fs":450},{"t":25,"x":0.927,"y":0.851,"fs":450},{"t":25,"x":0.934,"y":0.84,"fs":420},{"t":25,"x":0.942,"y":0.825,"fs":300},{"t":25,"x":0.95,"y":0.81,"fs":450},{"t":25,"x":0.954,"y":0.792,"fs":420},{"t":25,"x":0.957,"y":0.774,"fs":300},{"t":25,"x":0.965,"y":0.755,"fs":350},{"t":25,"x":0.973,"y":0.736,"fs":450},{"t":25,"x":0.979,"y":0.718,"fs":450},{"t":25,"x":0.985,"y":0.7,"fs":450},{"t":25,"x":0.988,"y":0.678,"fs":420},{"t":25,"x":0.991,"y":0.656,"fs":450},{"t":25,"x":0.994,"y":0.634,"fs":450},{"t":25,"x":0.996,"y":0.611,"fs":480},{"t":25,"x":1.0,"y":0.593,"fs":480},{"t":25,"x":0.998,"y":0.575,"fs":450},{"t":25,"x":0.991,"y":0.556,"fs":300},{"t":25,"x":0.991,"y":0.538,"fs":280},{"t":25,"x":0.988,"y":0.516,"fs":420},{"t":25,"x":0.985,"y":0.494,"fs":450},{"t":25,"x":0.983,"y":0.471,"fs":300},{"t":25,"x":0.98,"y":0.449,"fs":450},{"t":25,"x":0.976,"y":0.427,"fs":450},{"t":25,"x":0.973,"y":0.405,"fs":450},{"t":25,"x":0.965,"y":0.383,"fs":420},{"t":25,"x":0.957,"y":0.361,"fs":300},{"t":25,"x":0.95,"y":0.339,"fs":300},{"t":25,"x":0.942,"y":0.317,"fs":420},{"t":25,"x":0.927,"y":0.295,"fs":450},{"t":25,"x":0.912,"y":0.273,"fs":450},{"t":25,"x":0.893,"y":0.255,"fs":300},{"t":25,"x":0.873,"y":0.236,"fs":420},{"t":25,"x":0.854,"y":0.222,"fs":300},{"t":25,"x":0.835,"y":0.207,"fs":450},{"t":25,"x":0.816,"y":0.2,"fs":300},{"t":25,"x":0.797,"y":0.192,"fs":280},{"t":25,"x":0.77,"y":0.188,"fs":300},{"t":25,"x":0.744,"y":0.185,"fs":450},{"t":25,"x":0.717,"y":0.178,"fs":300},{"t":25,"x":0.69,"y":0.17,"fs":250},{"t":25,"x":0.656,"y":0.163,"fs":280},{"t":25,"x":0.621,"y":0.157,"fs":250},{"t":25,"x":0.587,"y":0.15,"fs":200},{"t":25,"x":0.552,"y":0.143,"fs":250},{"t":25,"x":0.518,"y":0.135,"fs":200},{"t":25,"x":0.484,"y":0.126,"fs":150},{"t":25,"x":0.457,"y":0.117,"fs":150},{"t":25,"x":0.429,"y":0.108,"fs":130},{"t":25,"x":0.403,"y":0.097,"fs":120},{"t":25,"x":0.378,"y":0.086,"fs":110}
  ],
  "bar": [
   {"lo":0,"hi":100,"fs":50},{"lo":100,"hi":200,"fs":150},{"lo":200,"hi":300,"fs":250},{"lo":300,"hi":400,"fs":350},{"lo":400,"hi":500,"fs":450}
  ],
  "refvec": [
   {"spd":10,"dir":0},{"spd":10,"dir":-90}
  ],
  "reflabel": [
   {"label":"10 (m s\u207b\u00b9)"}
  ],
  "heading": [
   {"label":"FIR7CR\u00a0\u00a0\u00a0\u00a0\u00a0F\u209b\u00a0(kW\u00a0m\u207b\u00b2)"}
  ]
 },
 "spacing": 4,
 "vconcat": [
  {
   "bounds": "flush",
   "columns": 2,
   "spacing": {"row": 70, "column": 61},
   "concat": [
    {
     "width": 218, "height": 1,
     "view": {"stroke": null},
     "data": {"name": "heading"},
     "mark": {"type": "text", "align": "left", "baseline": "alphabetic", "fontSize": 22, "color": "#222"},
     "encoding": {
      "x": {"datum": 0.158, "type": "quantitative", "scale": {"domain": [0.19, 1.19], "nice": false, "zero": false}, "axis": null},
      "y": {"datum": 1.371, "type": "quantitative", "scale": {"domain": [1.499, 1.503], "nice": false, "zero": false}, "axis": null},
      "text": {"field": "label", "type": "nominal"}
     }
    },
    {
     "width": 218, "height": 1,
     "view": {"stroke": null},
     "layer": [
      {"data": {"name": "refvec"}, "mark": {"type": "point", "shape": "M0,0L2,0M2,0L1.45,-0.32M2,0L1.45,0.32", "filled": false, "color": "#000000", "strokeWidth": 1, "opacity": 1}, "encoding": {"x": {"datum": 0.805, "type": "quantitative", "scale": {"domain": [0.19, 1.19], "nice": false, "zero": false}, "axis": null}, "y": {"datum": 1.44, "type": "quantitative", "scale": {"domain": [1.499, 1.503], "nice": false, "zero": false}, "axis": null}, "angle": {"field": "dir", "type": "quantitative", "scale": null}, "size": {"field": "spd", "type": "quantitative", "scale": {"type": "pow", "exponent": 2, "domain": [0, 10], "range": [0, 529]}, "legend": null}}},
      {"data": {"name": "reflabel"}, "mark": {"type": "text", "align": "left", "baseline": "alphabetic", "fontSize": 16, "color": "#222"}, "encoding": {"x": {"datum": 0.83, "type": "quantitative"}, "y": {"datum": 1.372, "type": "quantitative"}, "text": {"field": "label", "type": "nominal"}}}
     ]
    },
    {
     "width": 218, "height": 273,
     "title": {"text": "Time=\u00a0\u00a01.0\u00a0min"},
     "encoding": {
      "x": {"field": "x", "type": "quantitative", "scale": {"domain": [0.19, 1.19], "nice": false, "zero": false}, "axis": {"values": [0.4, 0.6, 0.8, 1.0], "format": ".1f", "labelFontSize": 18, "labelPadding": 14, "title": null}},
      "y": {"field": "y", "type": "quantitative", "scale": {"domain": [-0.015, 1.19], "nice": false, "zero": false}, "axis": {"values": [0, 0.2, 0.4, 0.6, 0.8, 1.0], "format": ".1f", "labelPadding": 8, "title": "Y (km)", "titlePadding": 12}}
     },
     "layer": [
      {"data": {"name": "fire"}, "transform": [{"filter": "datum.t == 1"}], "mark": {"type": "point", "shape": "circle", "filled": true, "color": "#d2d2d2", "size": 110, "opacity": 1}},
      {"data": {"name": "fire"}, "transform": [{"filter": "datum.t == 1"}], "mark": {"type": "point", "shape": "circle", "filled": true, "size": 50, "opacity": 1}, "encoding": {"color": {"field": "fs", "type": "quantitative", "scale": {"type": "threshold", "domain": [100, 200, 300, 400], "range": ["#ffffff", "#e4e4e4", "#c6c6c6", "#6e6e6e", "#000000"]}, "legend": null}}},
      {"data": {"name": "vec"}, "transform": [{"filter": "datum.t == 1"}], "mark": {"type": "point", "shape": "M0,0L2,0M2,0L1.45,-0.32M2,0L1.45,0.32", "filled": false, "color": "#000000", "strokeWidth": 1, "opacity": 1}, "encoding": {"angle": {"field": "dir", "type": "quantitative", "scale": null}, "size": {"field": "spd", "type": "quantitative", "scale": {"type": "pow", "exponent": 2, "domain": [0, 10], "range": [0, 529]}, "legend": null}}}
     ]
    },
    {
     "width": 218, "height": 273,
     "title": {"text": "Time=\u00a017.0\u00a0min"},
     "encoding": {
      "x": {"field": "x", "type": "quantitative", "scale": {"domain": [0.19, 1.19], "nice": false, "zero": false}, "axis": {"values": [0.4, 0.6, 0.8, 1.0], "format": ".1f", "labelFontSize": 18, "labelPadding": 14, "title": null}},
      "y": {"field": "y", "type": "quantitative", "scale": {"domain": [-0.015, 1.19], "nice": false, "zero": false}, "axis": {"values": [0, 0.2, 0.4, 0.6, 0.8, 1.0], "format": ".1f", "labelPadding": 8, "title": null}}
     },
     "layer": [
      {"data": {"name": "fire"}, "transform": [{"filter": "datum.t == 17"}], "mark": {"type": "point", "shape": "circle", "filled": true, "color": "#d2d2d2", "size": 90, "opacity": 1}},
      {"data": {"name": "fire"}, "transform": [{"filter": "datum.t == 17"}], "mark": {"type": "point", "shape": "circle", "filled": true, "size": 40, "opacity": 1}, "encoding": {"color": {"field": "fs", "type": "quantitative", "scale": {"type": "threshold", "domain": [100, 200, 300, 400], "range": ["#ffffff", "#e4e4e4", "#c6c6c6", "#6e6e6e", "#000000"]}, "legend": null}}},
      {"data": {"name": "vec"}, "transform": [{"filter": "datum.t == 17"}], "mark": {"type": "point", "shape": "M0,0L2,0M2,0L1.45,-0.32M2,0L1.45,0.32", "filled": false, "color": "#000000", "strokeWidth": 1, "opacity": 1}, "encoding": {"angle": {"field": "dir", "type": "quantitative", "scale": null}, "size": {"field": "spd", "type": "quantitative", "scale": {"type": "pow", "exponent": 2, "domain": [0, 10], "range": [0, 529]}, "legend": null}}}
     ]
    },
    {
     "width": 218, "height": 273,
     "title": {"text": "Time=\u00a0\u00a09.0\u00a0min"},
     "encoding": {
      "x": {"field": "x", "type": "quantitative", "scale": {"domain": [0.19, 1.19], "nice": false, "zero": false}, "axis": {"values": [0.4, 0.6, 0.8, 1.0], "format": ".1f", "labelFontSize": 18, "labelPadding": 14, "title": "X (km)", "titlePadding": 3}},
      "y": {"field": "y", "type": "quantitative", "scale": {"domain": [-0.015, 1.19], "nice": false, "zero": false}, "axis": {"values": [0, 0.2, 0.4, 0.6, 0.8, 1.0], "format": ".1f", "labelPadding": 8, "title": "Y (km)", "titlePadding": 12}}
     },
     "layer": [
      {"data": {"name": "fire"}, "transform": [{"filter": "datum.t == 9"}], "mark": {"type": "point", "shape": "circle", "filled": true, "color": "#d2d2d2", "size": 90, "opacity": 1}},
      {"data": {"name": "fire"}, "transform": [{"filter": "datum.t == 9"}], "mark": {"type": "point", "shape": "circle", "filled": true, "size": 40, "opacity": 1}, "encoding": {"color": {"field": "fs", "type": "quantitative", "scale": {"type": "threshold", "domain": [100, 200, 300, 400], "range": ["#ffffff", "#e4e4e4", "#c6c6c6", "#6e6e6e", "#000000"]}, "legend": null}}},
      {"data": {"name": "vec"}, "transform": [{"filter": "datum.t == 9"}], "mark": {"type": "point", "shape": "M0,0L2,0M2,0L1.45,-0.32M2,0L1.45,0.32", "filled": false, "color": "#000000", "strokeWidth": 1, "opacity": 1}, "encoding": {"angle": {"field": "dir", "type": "quantitative", "scale": null}, "size": {"field": "spd", "type": "quantitative", "scale": {"type": "pow", "exponent": 2, "domain": [0, 10], "range": [0, 529]}, "legend": null}}}
     ]
    },
    {
     "width": 218, "height": 273,
     "title": {"text": "Time=\u00a025.0\u00a0min"},
     "encoding": {
      "x": {"field": "x", "type": "quantitative", "scale": {"domain": [0.19, 1.19], "nice": false, "zero": false}, "axis": {"values": [0.4, 0.6, 0.8, 1.0], "format": ".1f", "labelFontSize": 18, "labelPadding": 14, "title": "X (km)", "titlePadding": 3}},
      "y": {"field": "y", "type": "quantitative", "scale": {"domain": [-0.015, 1.19], "nice": false, "zero": false}, "axis": {"values": [0, 0.2, 0.4, 0.6, 0.8, 1.0], "format": ".1f", "labelPadding": 8, "title": null}}
     },
     "layer": [
      {"data": {"name": "fire"}, "transform": [{"filter": "datum.t == 25"}], "mark": {"type": "point", "shape": "circle", "filled": true, "color": "#d2d2d2", "size": 90, "opacity": 1}},
      {"data": {"name": "fire"}, "transform": [{"filter": "datum.t == 25"}], "mark": {"type": "point", "shape": "circle", "filled": true, "size": 40, "opacity": 1}, "encoding": {"color": {"field": "fs", "type": "quantitative", "scale": {"type": "threshold", "domain": [100, 200, 300, 400], "range": ["#ffffff", "#e4e4e4", "#c6c6c6", "#6e6e6e", "#000000"]}, "legend": null}}},
      {"data": {"name": "vec"}, "transform": [{"filter": "datum.t == 25"}], "mark": {"type": "point", "shape": "M0,0L2,0M2,0L1.45,-0.32M2,0L1.45,0.32", "filled": false, "color": "#000000", "strokeWidth": 1, "opacity": 1}, "encoding": {"angle": {"field": "dir", "type": "quantitative", "scale": null}, "size": {"field": "spd", "type": "quantitative", "scale": {"type": "pow", "exponent": 2, "domain": [0, 10], "range": [0, 529]}, "legend": null}}}
     ]
    }
   ]
  },
  {
   "width": 500, "height": 7,
   "data": {"name": "bar"},
   "view": {"stroke": null},
   "mark": {"type": "rect", "stroke": "#999999", "strokeWidth": 0.5},
   "encoding": {
    "x": {"field": "lo", "type": "quantitative", "scale": {"domain": [0, 500], "nice": false}, "axis": {"values": [0, 100, 200, 300, 400, 500], "title": null, "labelPadding": 14, "labelFontSize": 18, "labelFlush": false}},
    "x2": {"field": "hi"},
    "color": {"field": "fs", "type": "quantitative", "scale": {"type": "threshold", "domain": [100, 200, 300, 400], "range": ["#ffffff", "#e4e4e4", "#c6c6c6", "#6e6e6e", "#000000"]}, "legend": null}
   }
  }
 ]
}
